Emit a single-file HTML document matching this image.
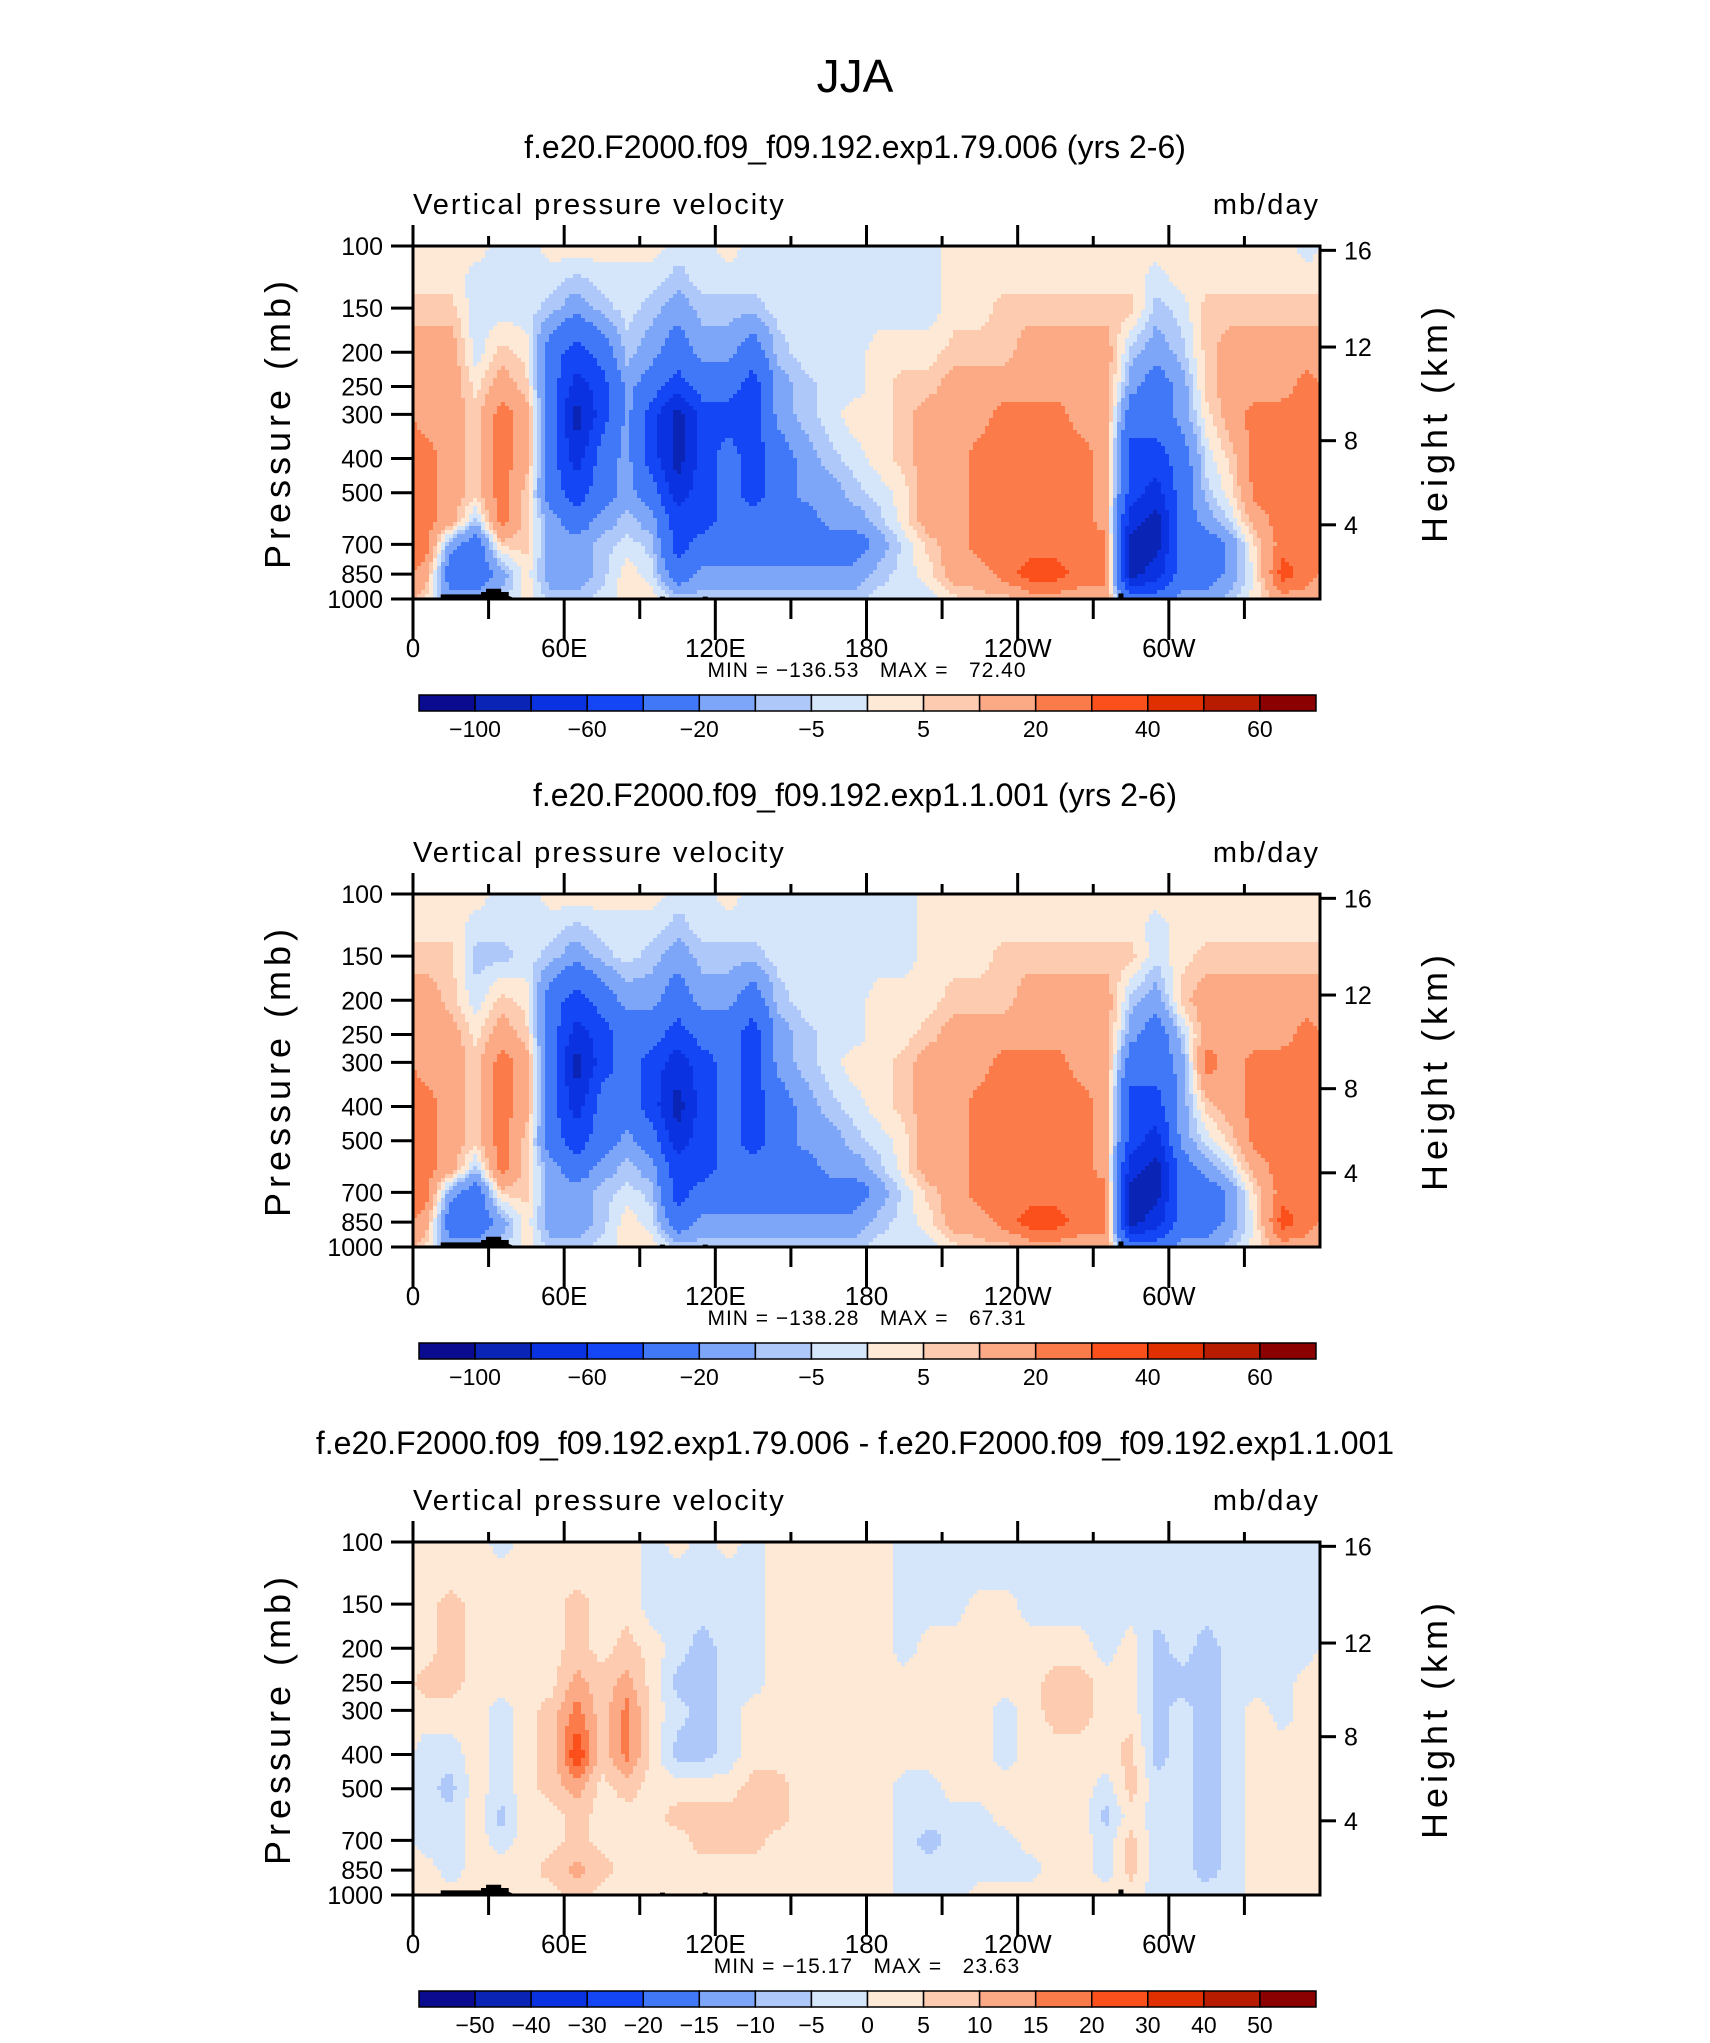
<!DOCTYPE html>
<html><head><meta charset="utf-8"><style>
html,body{margin:0;padding:0;background:#fff;}
svg text{font-family:"Liberation Sans",sans-serif;}
</style></head><body>
<svg id="fig" width="1710" height="2038" viewBox="0 0 1710 2038" xmlns="http://www.w3.org/2000/svg">
<text x="855" y="92" font-size="46" text-anchor="middle" font-weight="300" fill="#000">JJA</text>
</svg>
<script>
const lons=[5,15,25,35,45,55,65,75,85,95,105,115,125,135,145,155,165,175,185,195,205,215,225,235,245,255,265,275,285,295,305,315,325,335,345,355];
const pressures=[100,125,150,200,250,300,400,500,600,700,850,1000];
const pressureTicks=[100,150,200,250,300,400,500,700,850,1000];
const heightTicks=[4,8,12,16];
const lonTickVals=[0,60,120,180,240,300];
const lonTickLabels=["0","60E","120E","180","120W","60W"];
const levelsAbs=[-100,-80,-60,-40,-20,-10,-5,0,5,10,20,30,40,50,60];
const levelsDiff=[-50,-40,-30,-20,-15,-10,-5,0,5,10,15,20,30,40,50];
const absLabels=["-100","-60","-20","-5","5","20","40","60"];
const diffLabels=["-50","-40","-30","-20","-15","-10","-5","0","5","10","15","20","30","40","50"];
const palette=["#0b0b8f","#0a24b5","#0b32e0","#1446f5","#4078f8","#7ea6f8","#afc8fa","#d5e6fb","#fde9d6","#fdcbb0","#fca985","#fb7b4b","#fb4f1c","#e03000","#b81c00","#8b0000"];
const field1=[
[3,3,7,15,15,15,25,25,25,25,15,5],[3,3,7,15,15,15,15,15,15,-15,-30,-15],[3,-3,-3,-3,3,7,7,7,-7,-30,-30,-15],[-3,-3,-3,7,15,25,25,25,25,7,-15,-7],
[-3,-3,-3,3,7,15,15,7,7,7,3,3],[3,-3,-7,-30,-30,-30,-30,-30,-15,-15,-15,-7],[3,-7,-15,-50,-70,-90,-70,-50,-30,-15,-15,-7],[3,-3,-7,-30,-50,-50,-30,-30,-15,-7,-7,-3],
[3,-3,-3,-7,-15,-15,-15,-15,-7,-3,3,3],[3,-3,-7,-15,-30,-50,-50,-30,-15,-7,-3,3],[-3,-7,-15,-30,-50,-90,-90,-70,-50,-50,-30,-7],[-3,-3,-7,-15,-30,-50,-50,-50,-50,-30,-15,-7],
[3,-3,-7,-15,-30,-50,-30,-30,-30,-30,-15,-7],[-3,-3,-7,-30,-50,-50,-50,-50,-30,-30,-15,-7],[-3,-3,-3,-7,-15,-15,-30,-30,-30,-30,-15,-7],[-3,-3,-3,-3,-7,-7,-15,-15,-30,-30,-15,-7],
[-3,-3,-3,-3,-3,-3,-7,-15,-15,-30,-15,-7],[-3,-3,-3,-3,-3,3,-3,-7,-15,-30,-15,-7],[-3,-3,-3,3,3,3,3,-3,-7,-15,-7,-3],[-3,-3,-3,3,7,7,7,3,3,-3,-3,-3],
[-3,-3,-3,3,7,15,15,15,15,7,3,-3],[3,3,3,7,15,15,15,15,15,15,15,3],[3,3,3,7,15,15,25,25,25,25,15,7],[3,3,7,7,15,25,25,25,25,25,25,7],
[3,3,7,15,15,25,25,25,25,25,35,15],[3,3,7,15,15,25,25,25,25,25,35,15],[3,3,7,15,15,15,25,25,25,25,25,15],[3,3,7,15,15,15,15,15,15,25,25,15],
[3,3,7,-7,-15,-30,-50,-50,-70,-90,-90,-30],[3,-3,-7,-15,-30,-30,-50,-70,-90,-90,-70,-30],[3,3,-3,-7,-15,-15,-30,-30,-30,-30,-30,-15],[3,3,7,7,7,3,-3,-7,-15,-30,-30,-15],
[3,3,7,15,15,15,7,3,-3,-15,-15,-7],[3,3,7,15,15,25,25,25,15,7,3,3],[3,3,7,15,15,25,25,25,25,25,35,15],[-3,3,7,15,25,25,25,25,25,25,25,15]];
const field2=[
[3,3,7,15,15,15,25,25,25,25,15,5],[3,3,7,7,15,15,15,15,15,-15,-30,-15],[3,-3,-7,-3,3,7,7,7,-7,-30,-30,-15],[-3,-3,-7,7,15,25,25,25,25,7,-15,-7],
[-3,-3,-3,3,7,15,15,7,7,7,3,3],[3,-3,-7,-30,-30,-30,-30,-30,-15,-15,-15,-7],[3,-7,-15,-50,-70,-90,-70,-50,-30,-15,-15,-7],[3,-3,-7,-30,-50,-50,-30,-30,-15,-7,-7,-3],
[3,-3,-3,-15,-30,-30,-30,-15,-7,-3,3,3],[3,-3,-7,-15,-30,-50,-50,-30,-15,-7,-3,3],[-3,-7,-15,-30,-50,-70,-90,-70,-50,-50,-30,-7],[-3,-3,-7,-15,-30,-50,-50,-50,-50,-30,-15,-7],
[3,-3,-7,-15,-30,-30,-30,-30,-30,-30,-15,-7],[-3,-3,-7,-30,-50,-50,-50,-50,-30,-30,-15,-7],[-3,-3,-3,-7,-15,-15,-30,-30,-30,-30,-15,-7],[-3,-3,-3,-3,-7,-7,-15,-15,-30,-30,-15,-7],
[-3,-3,-3,-3,-3,-3,-7,-15,-15,-30,-15,-7],[-3,-3,-3,-3,-3,3,-3,-7,-15,-30,-15,-7],[-3,-3,-3,3,3,3,3,-3,-7,-15,-7,-3],[-3,-3,-3,3,3,7,7,3,3,-3,-3,-3],
[3,3,3,3,7,15,15,15,15,7,3,-3],[3,3,3,7,15,15,15,15,15,15,15,3],[3,3,3,7,15,15,25,25,25,25,15,7],[3,3,7,7,15,25,25,25,25,25,25,7],
[3,3,7,15,15,25,25,25,25,25,35,15],[3,3,7,15,15,25,25,25,25,25,35,15],[3,3,7,15,15,15,25,25,25,25,25,15],[3,3,7,15,15,15,15,15,15,25,25,15],
[3,3,7,-7,-15,-30,-50,-50,-70,-90,-90,-30],[3,-3,-3,-15,-30,-30,-50,-70,-90,-90,-70,-30],[3,3,3,7,-7,-15,-15,-15,-30,-30,-30,-15],[3,3,7,15,15,25,7,-3,-15,-30,-30,-15],
[3,3,7,15,15,15,15,7,-3,-15,-15,-7],[3,3,7,15,15,25,25,25,15,7,3,3],[3,3,7,15,15,25,25,25,25,25,35,15],[3,3,7,15,25,25,25,25,25,25,25,15]];
const fieldDiff=[
[3,3,3,3,7,3,-3,-3,-3,-3,3,3],[3,3,7,7,7,3,-3,-7,-3,-3,-3,3],[3,3,3,3,3,3,3,3,3,3,3,3],[-3,3,3,3,3,-3,-3,-3,-7,-3,3,3],
[3,3,3,3,3,3,3,3,3,3,3,3],[3,3,3,3,3,7,7,7,3,3,7,3],[3,3,7,7,12,17,25,12,7,7,12,7],[3,3,3,3,7,7,7,3,3,3,7,3],
[3,3,3,7,12,17,17,7,3,3,3,3],[-3,-3,-3,3,3,3,3,3,3,3,3,3],[3,-3,-3,-3,-7,-3,-7,3,7,3,3,3],[-3,-3,-3,-7,-7,-7,-7,3,7,7,3,3],
[3,-3,-3,-3,-3,-3,-3,3,7,7,3,3],[-3,-3,-3,-3,-3,3,3,7,7,7,3,3],[3,3,3,3,3,3,3,7,7,3,3,3],[3,3,3,3,3,3,3,3,3,3,3,3],
[3,3,3,3,3,3,3,3,3,3,3,3],[3,3,3,3,3,3,3,3,3,3,3,3],[3,3,3,3,3,3,3,3,3,3,3,3],[-3,-3,-3,-3,3,3,3,-3,-3,-3,-3,-3],
[-3,-3,-3,3,3,3,3,-3,-3,-7,-3,-3],[-3,-3,-3,3,3,3,3,3,-3,-3,-3,-3],[-3,-3,3,3,3,3,3,3,-3,-3,-3,3],[-3,-3,3,3,3,-3,-3,3,3,-3,-3,3],
[-3,-3,-3,3,3,3,3,3,3,3,-3,3],[-3,-3,-3,3,7,7,3,3,3,3,3,3],[-3,-3,-3,3,7,7,3,3,3,3,3,3],[-3,-3,-3,-3,3,3,3,-3,-7,-3,-3,3],
[-3,-3,-3,3,3,3,7,7,3,7,7,3],[-3,-3,-3,-7,-7,-7,-7,-3,-3,-3,-3,-3],[-3,-3,-3,-3,-7,-3,-3,-3,-3,-3,-3,-3],[-3,-3,-3,-7,-7,-7,-7,-7,-7,-7,-7,-3],
[-3,-3,-3,-3,-3,-3,-3,-3,-3,-3,-3,-3],[-3,-3,-3,-3,-3,3,3,3,3,3,3,3],[-3,-3,-3,-3,-3,-3,3,3,3,3,3,3],[-3,-3,-3,-3,3,3,3,3,3,3,3,3]];
const topoLon=[9,11,11,27,27,29,29,35,35,38,38,41,98,98,100,100,115,115,117,117,280,280,282,282,306,306];
const topoP=[1000,1000,970,970,955,955,935,935,955,955,980,1000,1000,985,985,1000,1000,985,985,1000,1000,965,965,990,990,1000];
const panelTitles=["f.e20.F2000.f09_f09.192.exp1.79.006 (yrs 2-6)","f.e20.F2000.f09_f09.192.exp1.1.001 (yrs 2-6)","f.e20.F2000.f09_f09.192.exp1.79.006 - f.e20.F2000.f09_f09.192.exp1.1.001"];
const minMax=["MIN = \u2212136.53   MAX =   72.40","MIN = \u2212138.28   MAX =   67.31","MIN = \u221215.17   MAX =   23.63"];

const NS="http://www.w3.org/2000/svg";
const svg=document.getElementById('fig');
const PL=413,PW=907,PH=353;
function mk(tag,attrs,parent){const e=document.createElementNS(NS,tag);for(const k in attrs)e.setAttribute(k,attrs[k]);(parent||svg).appendChild(e);return e;}
function xOf(lon){return PL+lon/360*PW;}
function yFrac(p){return Math.log10(p/100);}
function pOfZ(z){if(z<=11000)return 1013.25*Math.pow(1-2.25577e-5*z,5.25588);return 226.32*Math.exp(-(z-11000)/6341.6);}
function colorIdx(v,levels){let i=0;while(i<levels.length&&v>=levels[i])i++;return i;}
function sample(field,lon,fy){
  let xi=(lon-5)/10;let i0=Math.floor(xi),t=xi-i0;
  const n=lons.length;const a=((i0%n)+n)%n,b=(((i0+1)%n)+n)%n;
  const fr=pressures.map(yFrac);
  let j=0;while(j<fr.length-2&&fy>fr[j+1])j++;
  let s=(fy-fr[j])/(fr[j+1]-fr[j]);s=Math.max(0,Math.min(1,s));
  const v0=field[a][j]*(1-s)+field[a][j+1]*s,v1=field[b][j]*(1-s)+field[b][j+1]*s;
  return v0*(1-t)+v1*t;
}
function panel(k,field,levels,cbLabels,labelAllBounds){
  const top=246+648*k;
  const g=mk('g',{});
  
  
  const tt=mk('text',{x:855,y:top-88,'font-size':32,'text-anchor':'middle'},g);tt.textContent=panelTitles[k];
  
  
  const vt=mk('text',{x:PL,y:top-32,'font-size':29,'font-weight':300,'letter-spacing':'2'},g);vt.textContent='Vertical pressure velocity';
  
  
  const ut=mk('text',{x:PL+PW,y:top-32,'font-size':29,'text-anchor':'end','font-weight':300,'letter-spacing':'2'},g);ut.textContent='mb/day';
  
  
  const fg=mk('g',{'shape-rendering':'crispEdges'},g);
  
  
  const step=4;
  for(let py=0;py<PH;py+=step){
    const fy=(py+step/2)/PH;
    let runStart=0,runC=-1;
    for(let px=0;px<PW+step;px+=step){
      let c=-2;
      if(px<PW){const lon=(px+step/2)/PW*360;c=colorIdx(sample(field,lon,fy),levels);}
      if(c!==runC){
        if(runC>=0){const r=mk('rect',{x:PL+runStart,y:top+py,width:Math.min(px,PW)-runStart,height:Math.min(step,PH-py),fill:palette[runC]},fg);
          
          }
        runStart=px;runC=c;
      }
    }
  }
  let d='M'+xOf(topoLon[0])+','+(top+PH);
  for(let i=0;i<topoLon.length;i++)d+=' L'+xOf(topoLon[i])+','+(top+yFrac(topoP[i])*PH);
  d+=' Z';
  const tp=mk('path',{d:d,fill:'#000'},g);
  
  
  const fr=mk('rect',{x:PL,y:top,width:PW,height:PH,fill:'none',stroke:'#000','stroke-width':3},g);
  
  
  for(let lon=0;lon<360;lon+=30){
    const major=lon%60===0,x=xOf(lon);
    const l1=mk('line',{x1:x,x2:x,y1:top+PH,y2:top+PH+(major?41:20),stroke:'#000','stroke-width':3},g);
    
    
    const l2=mk('line',{x1:x,x2:x,y1:top,y2:top-(major?21:10),stroke:'#000','stroke-width':3},g);
    
    
  }
  lonTickVals.forEach((lon,i)=>{const t=mk('text',{x:xOf(lon),y:top+PH+58,'font-size':26,'text-anchor':'middle','font-weight':300},g);t.textContent=lonTickLabels[i];
    
    });
  const mm=mk('text',{x:867,y:top+PH+78,'font-size':21,'text-anchor':'middle','style':'white-space:pre','letter-spacing':'1'},g);mm.textContent=minMax[k];
  
  
  pressureTicks.forEach(p=>{const y=top+yFrac(p)*PH;
    const l=mk('line',{x1:PL-22,x2:PL,y1:y,y2:y,stroke:'#000','stroke-width':3},g);
    
    
    const t=mk('text',{x:PL-30,y:y+9,'font-size':25,'text-anchor':'end','font-weight':300},g);t.textContent=p;
    
    });
  heightTicks.forEach(h=>{const y=top+yFrac(pOfZ(h*1000))*PH;
    const l=mk('line',{x1:PL+PW,x2:PL+PW+16,y1:y,y2:y,stroke:'#000','stroke-width':3},g);
    
    
    const t=mk('text',{x:PL+PW+24,y:y+9,'font-size':25,'font-weight':300},g);t.textContent=h;
    
    });
  const yl=mk('text',{x:0,y:0,'font-size':36,'text-anchor':'middle','font-weight':300,'letter-spacing':'5',transform:'translate(290,'+(top+PH/2)+') rotate(-90)'},g);yl.textContent='Pressure  (mb)';
  
  
  const hl=mk('text',{x:0,y:0,'font-size':36,'text-anchor':'middle','font-weight':300,'letter-spacing':'5',transform:'translate(1447,'+(top+PH/2)+') rotate(-90)'},g);hl.textContent='Height  (km)';
  
  
  const cbx=419,cbw=897,cby=top+449,bw=cbw/16;
  for(let i=0;i<16;i++){const r=mk('rect',{x:cbx+i*bw,y:cby,width:bw,height:16,fill:palette[i],stroke:'#000','stroke-width':1.5},g);
    
    }
  const labs=labelAllBounds?cbLabels.map((s,i)=>[i+1,s]):cbLabels.map((s,i)=>[2*i+1,s]);
  labs.forEach(([b,s])=>{const t=mk('text',{x:cbx+b*bw,y:cby+42,'font-size':23,'text-anchor':'middle','font-weight':300},g);t.textContent=s.replace('-','\u2212');
    
    });
}
panel(0,field1,levelsAbs,absLabels,false);
panel(1,field2,levelsAbs,absLabels,false);
panel(2,fieldDiff,levelsDiff,diffLabels,true);
</script>
</body></html>
